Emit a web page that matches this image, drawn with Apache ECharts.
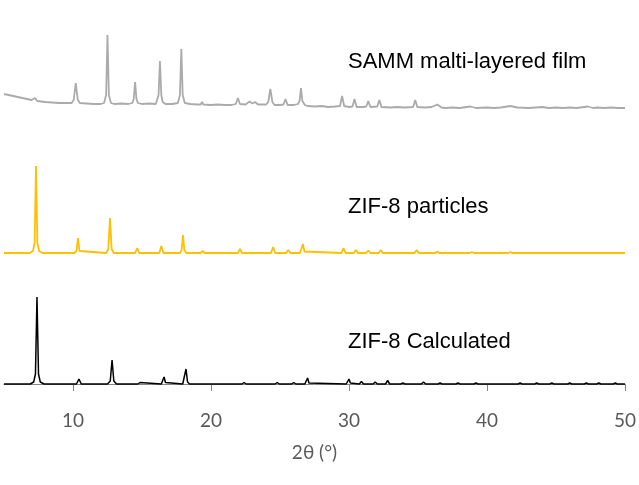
<!DOCTYPE html>
<html>
<head>
<meta charset="utf-8">
<script src="https://cdn.jsdelivr.net/npm/echarts@6/dist/echarts.min.js"></script>
<style>html,body{margin:0;padding:0;background:#fff}#c{width:639px;height:485px}</style>
</head>
<body>
<div id="c"></div>
<script>
// ---- data (2θ in degrees, intensity in arbitrary units, baseline 0) ----
const xTicks = [10, 20, 30, 40, 50];
const seriesNames = ['SAMM malti-layered film', 'ZIF-8 particles', 'ZIF-8 Calculated'];
const axisTitle = '2θ (°)';

const filmPattern = [
  [5,11],[5.5,9.5],[6,8],[6.5,6.5],[7,5],[7.1,5],[7.25,7],[7.4,4],[8,3],[8.5,2.5],[9,2],[9.5,2],[9.9,2],
  [10.05,5],[10.2,22],[10.35,5],[10.5,2],[11,1.5],[11.5,1],[12,1],[12.25,2],[12.4,10],[12.5,70],[12.6,10],[12.75,2],
  [13,1],[13.5,1.5],[14,1],[14.3,2],[14.4,6],[14.5,23],[14.6,6],[14.7,2],[15,1],[15.5,1.5],[16,1],
  [16.1,3],[16.2,10],[16.3,44],[16.4,10],[16.5,3],[16.7,1],[17.2,1],[17.6,2],[17.75,10],[17.85,56],[17.95,10],[18.1,2],
  [18.5,1],[19,0.5],[19.25,0.5],[19.35,3],[19.45,0.5],[20,0],[20.5,0.5],[21,0],[21.5,0],[21.8,1],[21.95,7],[22.1,1],
  [22.5,0.5],[22.8,3.5],[23,1.5],[23.2,3],[23.4,0.5],[24,0.5],[24.15,3],[24.3,16],[24.45,3],[24.6,0],[25,0],
  [25.25,0.5],[25.4,6],[25.55,0],[26,0],[26.3,1],[26.42,4],[26.52,17],[26.62,4],[26.8,0],[27,-1],[27.5,-1.5],
  [28,-1],[28.5,-2],[29,-1.5],[29.35,-1],[29.5,9],[29.65,-1],[30,-2],[30.25,-1.5],[30.4,6],[30.55,-2],[31,-2],
  [31.25,-1.5],[31.4,4],[31.55,-2],[32.05,-1.5],[32.2,5],[32.35,-2],[33,-2.5],[33.5,-2],[34,-2.5],[34.65,-2],
  [34.8,5],[34.95,-2],[35.5,-2.5],[36,-2],[36.4,0.5],[36.7,-2.5],[37,-3],[37.5,-2.5],[38,-3],[38.8,-1.5],[39.2,-3],
  [40,-2.5],[40.5,-3],[41,-2.5],[41.7,-1],[42.2,-2.5],[43,-3],[43.5,-2.5],[44,-2],[44.5,-3],[45,-2.5],[45.5,-3],
  [46,-2.5],[46.5,-3],[47.3,-1.5],[47.7,-3],[48,-2.5],[48.5,-3],[49,-2.5],[49.5,-3],[50,-3]
];

const particlesPattern = [
  [5,0],[6.85,0],[7.1,2],[7.22,10],[7.32,87],[7.42,10],[7.55,2],[7.8,0],
  [10.1,0],[10.25,2],[10.36,15],[10.47,2],[10.6,0],
  [12.4,0],[12.56,4],[12.68,35],[12.8,4],[12.95,0],
  [14.5,0],[14.65,5],[14.8,0],
  [16.25,0],[16.4,7],[16.55,0],
  [17.75,0],[17.87,3],[17.97,18],[18.07,3],[18.2,0],
  [19.25,0],[19.4,2],[19.55,0],
  [21.95,0],[22.1,4],[22.25,0],
  [24.35,0],[24.5,6],[24.65,0],
  [25.45,0],[25.6,3],[25.75,0],
  [26.45,0],[26.55,1.5],[26.66,9],[26.77,1.5],[26.9,0],
  [29.45,0],[29.6,5],[29.75,0],
  [30.35,0],[30.5,3],[30.65,0],
  [31.25,0],[31.4,2.5],[31.55,0],
  [32.15,0],[32.3,3],[32.45,0],
  [34.75,0],[34.9,3],[35.05,0],
  [36.25,0],[36.4,1.5],[36.55,0],
  [38.75,0],[38.9,1],[39.05,0],
  [41.55,0],[41.7,1],[41.85,0],
  [50,0]
];

const calculatedPattern = [
  [5,0],[6.9,0],[7.15,2],[7.28,10],[7.39,87],[7.5,10],[7.63,2],[7.9,0],
  [10.25,0],[10.43,5],[10.6,0],
  [12.5,0],[12.7,3],[12.83,24],[12.96,3],[13.15,0],
  [14.7,0],[14.86,1.5],[15.0,0],
  [16.4,0],[16.5,1.5],[16.6,7],[16.7,1.5],[16.8,0],
  [17.95,0],[18.08,2],[18.19,15],[18.3,2],[18.45,0],
  [19.5,0],[19.64,2],[19.8,0],
  [22.25,0],[22.4,1.5],[22.55,0],
  [24.65,0],[24.8,1.5],[24.95,0],
  [25.85,0],[26.0,1.5],[26.15,0],
  [26.8,0],[26.9,1],[27.0,6],[27.1,1],[27.2,0],
  [29.8,0],[29.9,1],[30.0,5],[30.1,1],[30.2,0],
  [30.75,0],[30.9,2.5],[31.05,0],
  [31.75,0],[31.9,2],[32.05,0],
  [32.65,0],[32.8,3.5],[32.95,0],
  [33.75,0],[33.9,1],[34.05,0],
  [35.25,0],[35.4,2],[35.55,0],
  [36.45,0],[36.6,1],[36.75,0],
  [37.75,0],[37.9,1],[38.05,0],
  [39.05,0],[39.2,1],[39.35,0],
  [42.25,0],[42.4,1],[42.55,0],
  [43.45,0],[43.6,1],[43.75,0],
  [44.55,0],[44.7,1],[44.85,0],
  [45.85,0],[46.0,1],[46.15,0],
  [47.05,0],[47.2,1],[47.35,0],
  [47.95,0],[48.1,1],[48.25,0],
  [49.15,0],[49.3,1],[49.45,0],
  [50,0]
];

const patterns = [filmPattern, particlesPattern, calculatedPattern];
const colors = ['#ababab', '#ffc000', '#000000'];
const widths = [1.8, 1.8, 1.5];
const gridTops = [14, 162, 293];
const labelPos = [[348, 63], [348, 208], [348, 343]];

const chart = echarts.init(document.getElementById('c'), null, {renderer: 'canvas'});

const grids = gridTops.map(t => ({left: 4, right: 14, top: t, height: 100}));
const xAxes = gridTops.map((t, i) => {
  const last = i === gridTops.length - 1;
  return {
    type: 'value', gridIndex: i, min: 5, max: 50, show: last,
    name: last ? axisTitle : '', nameLocation: 'middle', nameGap: 50,
    nameTextStyle: {color: '#595959', fontSize: 19, fontFamily: 'Lato'},
    axisLine: {show: true, lineStyle: {color: '#868686', width: 1}},
    axisTick: {show: true, length: 7, customValues: xTicks, lineStyle: {color: '#868686'}},
    axisLabel: {show: true, customValues: xTicks, margin: 18, color: '#595959', fontSize: 19, fontFamily: 'Lato'},
    splitLine: {show: false}
  };
});
const yAxes = gridTops.map((t, i) => ({type: 'value', gridIndex: i, min: -9, max: 91, show: false, splitLine: {show: false}}));

const series = patterns.map((p, i) => ({
  type: 'line', name: seriesNames[i], xAxisIndex: i, yAxisIndex: i, data: p,
  showSymbol: false, symbol: 'none', smooth: false, animation: false,
  lineStyle: {color: colors[i], width: widths[i]}
}));

const graphic = seriesNames.map((n, i) => ({
  type: 'text', left: labelPos[i][0], top: labelPos[i][1] - 12,
  style: {text: n, fill: '#000', font: '22px "Liberation Sans", Arial, sans-serif'}
}));

chart.setOption({
  animation: false,
  grid: grids, xAxis: xAxes, yAxis: yAxes, series: series, graphic: graphic
});
</script>
</body>
</html>
